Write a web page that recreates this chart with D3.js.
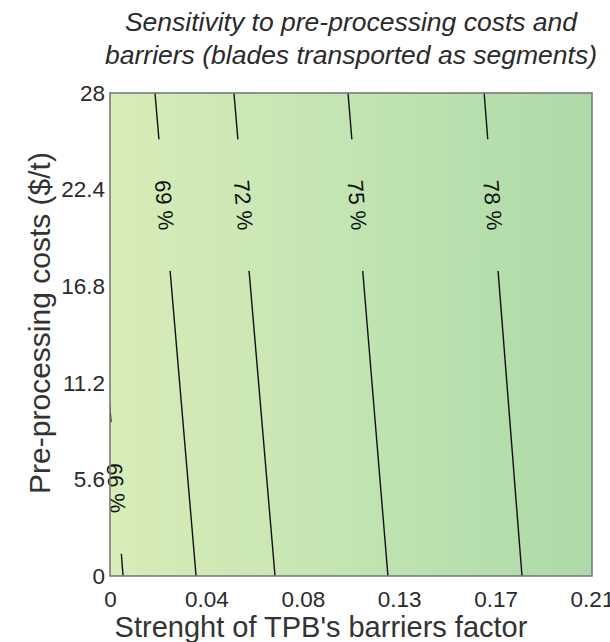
<!DOCTYPE html>
<html>
<head>
<meta charset="utf-8">
<script src="https://cdn.jsdelivr.net/npm/d3@7"></script>
<style>
  html, body { margin: 0; padding: 0; background: #ffffff; }
  svg { display: block; font-family: "Liberation Sans", Arial, sans-serif; }
</style>
</head>
<body>
<div id="chart"></div>
<script>
// ---- data ----
const titleLines = ["Sensitivity to pre-processing costs and", "barriers (blades transported as segments)"];
const xTitle = "Strenght of TPB's barriers factor";
const yTitle = "Pre-processing costs ($/t)";
const xTickValues = [0, 0.042, 0.084, 0.126, 0.168, 0.21];
const xTickLabels = ["0", "0.04", "0.08", "0.13", "0.17", "0.21"];
const yTickValues = [0, 5.6, 11.2, 16.8, 22.4, 28];
const yTickLabels = ["0", "5.6", "11.2", "16.8", "22.4", "28"];
// contour levels (%) with x position at bottom (y=0) and top (y=28) of the plot
const contourLevels = [66, 69, 72, 75, 78];
const contourXBottom = [0.0057, 0.0375, 0.0719, 0.1211, 0.1795];
const contourXTop = [-0.0108, 0.0196, 0.0540, 0.1037, 0.1630];
const contourLabelY = [5.1, 21.5, 21.5, 21.5, 21.5];
// background colour ramp across x
const bgStops = [0, 0.5, 1];
const bgColors = ["#d8edb7", "#c3e4b3", "#acdaa8"];

// ---- layout ----
const W = 610, H = 642;
const m = { left: 110, right: 18, top: 93, bottom: 66 };
const pw = W - m.left - m.right, ph = H - m.top - m.bottom;

const x = d3.scaleLinear().domain([0, 0.21]).range([m.left, m.left + pw]);
const y = d3.scaleLinear().domain([0, 28]).range([m.top + ph, m.top]);

const svg = d3.select("#chart").append("svg").attr("width", W).attr("height", H);
const defs = svg.append("defs");

const grad = defs.append("linearGradient").attr("id", "bg")
  .attr("x1", "0%").attr("x2", "100%").attr("y1", "0%").attr("y2", "0%");
bgStops.forEach((s, i) => grad.append("stop").attr("offset", s).attr("stop-color", bgColors[i]));

defs.append("clipPath").attr("id", "plotclip").append("rect")
  .attr("x", m.left).attr("y", m.top).attr("width", pw).attr("height", ph);

svg.append("rect").attr("x", m.left).attr("y", m.top).attr("width", pw).attr("height", ph)
  .attr("fill", "url(#bg)");

// contour geometry
const contours = contourLevels.map((lv, i) => {
  const xb = x(contourXBottom[i]), yb = y(0);
  const xt = x(contourXTop[i]), yt = y(28);
  const t = (contourLabelY[i] - 0) / 28;
  const lx = xb + (xt - xb) * t, ly = yb + (yt - yb) * t;
  const ang = Math.atan2(yb - yt, xb - xt) * 180 / Math.PI;
  return { lv, xb, yb, xt, yt, lx, ly, ang };
});

// mask to leave gaps for labels
const mask = defs.append("mask").attr("id", "gapmask").attr("maskUnits", "userSpaceOnUse")
  .attr("x", 0).attr("y", 0).attr("width", W).attr("height", H);
mask.append("rect").attr("x", 0).attr("y", 0).attr("width", W).attr("height", H).attr("fill", "white");
contours.forEach(c => {
  mask.append("rect").attr("x", -66).attr("y", -16).attr("width", 132).attr("height", 32)
    .attr("fill", "black").attr("transform", `translate(${c.lx},${c.ly}) rotate(${c.ang})`);
});

const lineG = svg.append("g").attr("clip-path", "url(#plotclip)")
  .append("g").attr("mask", "url(#gapmask)");
lineG.selectAll("line").data(contours).join("line")
  .attr("x1", d => d.xb).attr("y1", d => d.yb).attr("x2", d => d.xt).attr("y2", d => d.yt)
  .attr("stroke", "#111").attr("stroke-width", 1.4);

svg.append("g").selectAll("text").data(contours).join("text")
  .attr("transform", d => `translate(${d.lx},${d.ly}) rotate(${d.ang})`)
  .attr("text-anchor", "middle").attr("dy", "0.35em")
  .attr("font-size", 22).attr("fill", "#111")
  .text(d => d.lv + " %");

// frame
svg.append("rect").attr("x", m.left).attr("y", m.top).attr("width", pw).attr("height", ph)
  .attr("fill", "none").attr("stroke", "#7a7a7a").attr("stroke-width", 1.6);

// axes
const xAxis = d3.axisBottom(x).tickValues(xTickValues).tickFormat((d, i) => xTickLabels[i])
  .tickSize(0).tickPadding(15);
const gx = svg.append("g").attr("transform", `translate(0,${m.top + ph})`).call(xAxis);
gx.select(".domain").remove();
gx.selectAll("text").attr("font-size", 22.5).attr("fill", "#2a2a2a")
  .attr("font-family", "Liberation Sans, Arial, sans-serif");

const yAxis = d3.axisLeft(y).tickValues(yTickValues).tickFormat((d, i) => yTickLabels[i])
  .tickSize(0).tickPadding(5);
const gy = svg.append("g").attr("transform", `translate(${m.left},0)`).call(yAxis);
gy.select(".domain").remove();
gy.selectAll("text").attr("font-size", 22.5).attr("fill", "#2a2a2a")
  .attr("font-family", "Liberation Sans, Arial, sans-serif");

// titles
svg.append("g").selectAll("text").data(titleLines).join("text")
  .attr("x", m.left + pw / 2).attr("y", (d, i) => 31 + i * 33)
  .attr("text-anchor", "middle").attr("font-size", 26.5).attr("font-style", "italic")
  .attr("fill", "#2a2a2a").text(d => d);

svg.append("text").attr("x", 321).attr("y", 637).attr("text-anchor", "middle")
  .attr("font-size", 29).attr("fill", "#333").text(xTitle);

svg.append("text").attr("transform", `translate(50,${323}) rotate(-90)`)
  .attr("text-anchor", "middle").attr("font-size", 30).attr("fill", "#333").text(yTitle);
</script>
</body>
</html>
